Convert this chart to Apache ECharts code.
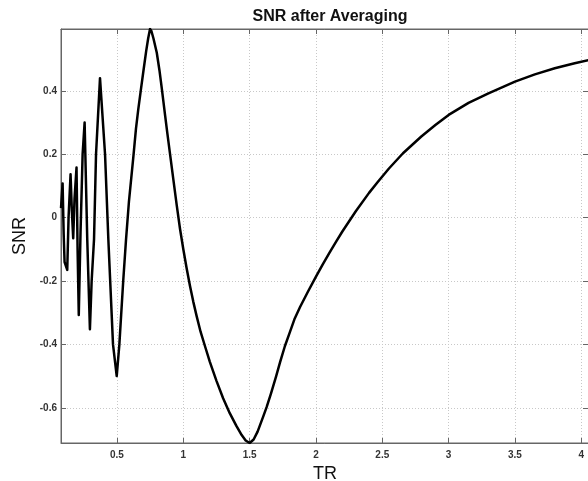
<!DOCTYPE html>
<html>
<head>
<meta charset="utf-8">
<script src="https://cdn.jsdelivr.net/npm/echarts@6/dist/echarts.min.js"></script>
<style>html,body{margin:0;padding:0;background:#fff}#c{width:588px;height:481px}</style>
</head>
<body>
<div id="c"></div>
<script>
// Values
const trValues = [
  0.078, 0.09, 0.098, 0.105, 0.125, 0.135, 0.15, 0.16, 0.17, 0.18, 0.195, 0.203, 0.212,
  0.225, 0.241, 0.256, 0.276, 0.296, 0.309, 0.327, 0.342, 0.372, 0.41, 0.435, 0.47, 0.498,
  0.518, 0.547, 0.568, 0.59, 0.623, 0.643, 0.66, 0.679, 0.70, 0.72, 0.735, 0.749,
  0.76, 0.775, 0.8, 0.82, 0.837, 0.862, 0.88, 0.9, 0.925, 0.95, 0.975, 1.0, 1.025, 1.05,
  1.075, 1.1, 1.13, 1.163, 1.2, 1.25, 1.3, 1.35, 1.4, 1.44, 1.47, 1.5,
  1.53, 1.56, 1.6, 1.628, 1.66, 1.7, 1.73, 1.766, 1.8, 1.84, 1.88, 1.94, 2.0, 2.05, 2.1, 2.153,
  2.2, 2.3, 2.4, 2.467, 2.55, 2.656, 2.794, 2.9, 3.0, 3.15, 3.3, 3.5, 3.65, 3.8, 3.95, 4.058
];
const snrValues = [
  0.03, 0.108, -0.05, -0.14, -0.165, 0.0, 0.137, 0.02, -0.065, 0.06, 0.158, -0.1, -0.307,
  -0.05, 0.2, 0.30, -0.07, -0.352, -0.2, -0.068, 0.2, 0.44, 0.2, -0.07, -0.4, -0.5,
  -0.4, -0.2, -0.07, 0.05, 0.19, 0.28, 0.34, 0.40, 0.465, 0.525, 0.565, 0.595,
  0.588, 0.565, 0.52, 0.465, 0.41, 0.325, 0.265, 0.2, 0.12, 0.04, -0.035, -0.1, -0.16, -0.215,
  -0.265, -0.31, -0.36, -0.405, -0.455, -0.515, -0.57, -0.617, -0.657, -0.686, -0.703, -0.711,
  -0.70, -0.675, -0.63, -0.598, -0.556, -0.50, -0.455, -0.405, -0.365, -0.318, -0.282, -0.233, -0.186, -0.148, -0.112, -0.075,
  -0.043, 0.02, 0.078, 0.113, 0.155, 0.203, 0.256, 0.292, 0.324, 0.362, 0.392, 0.429, 0.452, 0.471, 0.487, 0.497
];
const xTicks = [0.5, 1, 1.5, 2, 2.5, 3, 3.5, 4];
const yTicks = [-0.6, -0.4, -0.2, 0, 0.2, 0.4];
const xRange = [0.078, 4.058];
const yRange = [-0.711, 0.595];

const seriesData = trValues.map((x, i) => [x, snrValues[i]]);

const axisColor = '#666';
const fontFam = 'Liberation Sans, Arial, sans-serif';
const labelStyle = { color: '#333', fontSize: 10, fontWeight: 'bold', fontFamily: fontFam };
const gridLine = { show: true, lineStyle: { color: '#c8c8c8', type: [1, 2], width: 1 } };

const chart = echarts.init(document.getElementById('c'), null, { renderer: 'canvas' });
chart.setOption({
  animation: false,
  backgroundColor: '#fff',
  title: {
    text: 'SNR after Averaging',
    left: 325, top: 4, textAlign: 'center',
    textStyle: { fontSize: 16, fontWeight: 'bold', color: '#111', fontFamily: fontFam }
  },
  grid: {
    left: 61, top: 29, width: 528, height: 414,
    containLabel: false, outerBoundsMode: 'none',
    show: true, borderColor: axisColor, borderWidth: 1
  },
  xAxis: [
    {
      type: 'value', position: 'bottom', min: xRange[0], max: xRange[1],
      name: 'TR', nameLocation: 'middle', nameGap: 19,
      nameTextStyle: { fontSize: 18, color: '#111', fontFamily: fontFam },
      axisLine: { show: true, onZero: false, lineStyle: { color: axisColor } },
      axisTick: { show: true, inside: true, length: 5, customValues: xTicks, lineStyle: { color: axisColor } },
      axisLabel: Object.assign({ customValues: xTicks, margin: 7 }, labelStyle),
      splitLine: gridLine
    },
    {
      type: 'value', position: 'top', min: xRange[0], max: xRange[1],
      axisLine: { show: true, onZero: false, lineStyle: { color: axisColor } },
      axisTick: { show: true, inside: true, length: 5, customValues: xTicks, lineStyle: { color: axisColor } },
      axisLabel: { show: false },
      splitLine: { show: false }
    }
  ],
  yAxis: [
    {
      type: 'value', position: 'left', min: yRange[0], max: yRange[1],
      name: 'SNR', nameLocation: 'middle', nameGap: 25, nameRotate: 90,
      nameTextStyle: { fontSize: 18, color: '#111', fontFamily: fontFam },
      axisLine: { show: true, onZero: false, lineStyle: { color: axisColor } },
      axisTick: { show: true, inside: true, length: 5, customValues: yTicks, lineStyle: { color: axisColor } },
      axisLabel: Object.assign({ customValues: yTicks, margin: 4 }, labelStyle),
      splitLine: gridLine
    },
    {
      type: 'value', position: 'right', min: yRange[0], max: yRange[1],
      axisLine: { show: true, onZero: false, lineStyle: { color: axisColor } },
      axisTick: { show: true, inside: true, length: 6, customValues: yTicks, lineStyle: { color: axisColor } },
      axisLabel: { show: false },
      splitLine: { show: false }
    }
  ],
  series: [{
    type: 'line', xAxisIndex: 0, yAxisIndex: 0,
    data: seriesData, showSymbol: false, symbol: 'none',
    lineStyle: { color: '#000', width: 2.5, join: 'round' },
    clip: true
  }]
});
</script>
</body>
</html>
